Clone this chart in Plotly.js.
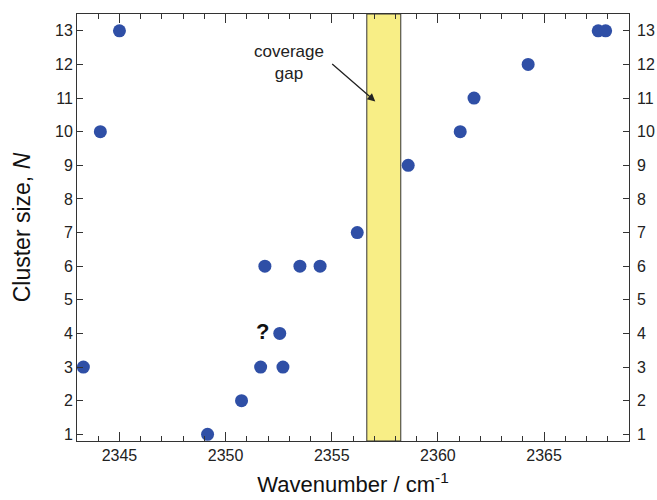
<!DOCTYPE html>
<html>
<head>
<meta charset="utf-8">
<script src="https://cdn.plot.ly/plotly-3.0.1.min.js"></script>
<style>html,body{margin:0;padding:0;background:#fff}#chart{width:657px;height:500px}</style>
</head>
<body>
<div id="chart"></div>
<script>
// Data
const wavenumber = [2343.3, 2344.1, 2345.0, 2349.15, 2350.75, 2351.65, 2352.7, 2352.55, 2351.85, 2353.5, 2354.45, 2356.2, 2358.6, 2361.05, 2361.7, 2364.25, 2367.55, 2367.9];
const clusterSize = [3, 10, 13, 1, 2, 3, 3, 4, 6, 6, 6, 7, 9, 10, 11, 12, 13, 13];
const gapStart = 2356.65;
const gapEnd = 2358.25;
const xTicks = [2345, 2350, 2355, 2360, 2365];
const yTicks = [1, 2, 3, 4, 5, 6, 7, 8, 9, 10, 11, 12, 13];

const font = "Liberation Sans, Arial, sans-serif";
const axisColor = "#333333";

const traces = [
  {
    x: wavenumber, y: clusterSize, type: "scatter", mode: "markers",
    marker: {size: 13, color: "#2f4fa6"},
    hoverinfo: "x+y", showlegend: false
  },
  {
    x: [wavenumber[0]], y: [clusterSize[0]], yaxis: "y2", type: "scatter", mode: "markers",
    marker: {size: 1, opacity: 0}, hoverinfo: "skip", showlegend: false
  }
];

const layout = {
  width: 657, height: 500,
  margin: {l: 77, r: 28, t: 14, b: 59},
  paper_bgcolor: "#ffffff", plot_bgcolor: "#ffffff",
  font: {family: font, size: 16, color: "#222"},
  showlegend: false,
  xaxis: {
    range: [2343, 2369], tickvals: xTicks, ticktext: xTicks.map(String),
    ticks: "inside", ticklen: 9, tickwidth: 1, tickcolor: axisColor,
    minor: {dtick: 1, ticks: "inside", ticklen: 5, tickcolor: axisColor, tickwidth: 1},
    showline: true, linecolor: axisColor, linewidth: 1, mirror: "ticks",
    showgrid: false, zeroline: false,
    tickfont: {family: font, size: 16, color: "#222"},
    title: {text: "Wavenumber / cm<sup>-1</sup>", font: {family: font, size: 22, color: "#111"}, standoff: 13}
  },
  yaxis: {
    range: [0.8, 13.5], tickvals: yTicks, ticktext: yTicks.map(String),
    ticks: "inside", ticklen: 6, tickwidth: 1, tickcolor: axisColor,
    showline: true, linecolor: axisColor, linewidth: 1, mirror: true,
    showgrid: false, zeroline: false,
    tickfont: {family: font, size: 16, color: "#222"},
    title: {text: "Cluster size, <i>N</i>", font: {family: font, size: 23, color: "#111"}, standoff: 17}
  },
  yaxis2: {
    overlaying: "y", side: "right", anchor: "x",
    range: [0.8, 13.5], tickvals: yTicks, ticktext: yTicks.map(String),
    ticks: "inside", ticklen: 6, tickwidth: 1, tickcolor: axisColor,
    ticklabelstandoff: 7,
    showline: false, showgrid: false, zeroline: false,
    tickfont: {family: font, size: 16, color: "#222"}
  },
  shapes: [
    {
      type: "rect", xref: "x", yref: "paper", x0: gapStart, x1: gapEnd, y0: 0, y1: 1,
      fillcolor: "#f8ee86", line: {color: "#333333", width: 1}, layer: "below"
    }
  ],
  annotations: [
    {
      x: 2353.0, y: 12.05, xref: "x", yref: "y", text: "coverage<br>gap",
      showarrow: false, font: {family: font, size: 17, color: "#222"}, align: "center"
    },
    {
      x: 2357.05, y: 10.9, xref: "x", yref: "y",
      ax: 2354.95, ay: 12.05, axref: "x", ayref: "y",
      text: "", showarrow: true, arrowhead: 2, arrowsize: 1.2, arrowwidth: 1.3, arrowcolor: "#222"
    },
    {
      x: 2351.75, y: 4.05, xref: "x", yref: "y", text: "<b>?</b>",
      showarrow: false, font: {family: font, size: 22, color: "#111"}
    }
  ]
};

Plotly.newPlot("chart", traces, layout, {displayModeBar: false, staticPlot: true});
</script>
</body>
</html>
